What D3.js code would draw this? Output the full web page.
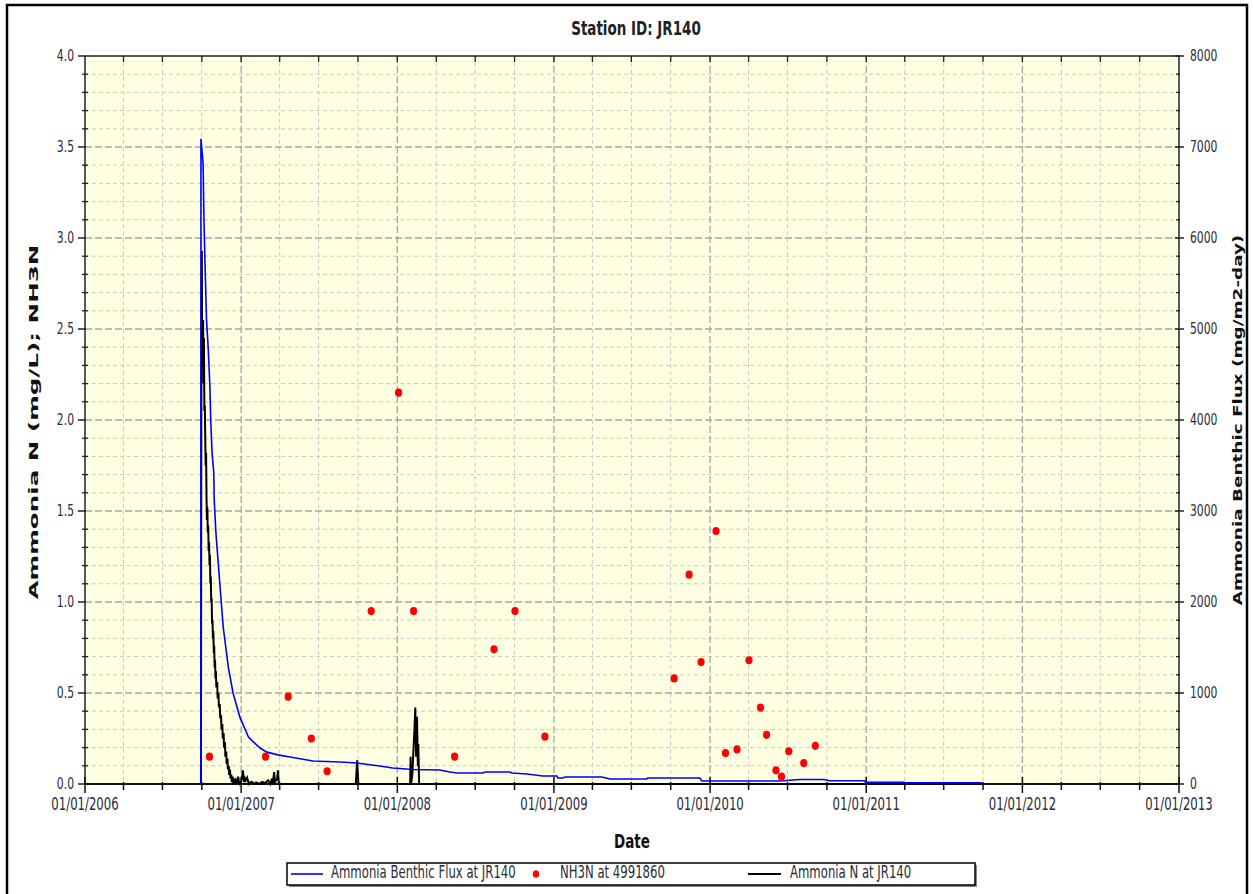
<!DOCTYPE html>
<html><head><meta charset="utf-8">
<script src="https://cdn.jsdelivr.net/npm/d3@7"></script>
<style>body{margin:0;background:#fff}</style>
</head><body>
<svg id="c" width="1253" height="894"></svg>
<script>
// ---------- data ----------
const chartTitle = "Station ID: JR140";
const xLabel = "Date";
const yLeftLabel = "Ammonia N  (mg/L); NH3N";
const yRightLabel = "Ammonia Benthic Flux  (mg/m2-day)";
const xDomain = ["2006-01-01", "2013-01-01"];
const yearTicks = ["2006-01-01","2007-01-01","2008-01-01","2009-01-01","2010-01-01","2011-01-01","2012-01-01","2013-01-01"];
const leftTicks = [0, 0.5, 1.0, 1.5, 2.0, 2.5, 3.0, 3.5, 4.0];
const rightTicks = [0, 1000, 2000, 3000, 4000, 5000, 6000, 7000, 8000];
const seriesNames = ["Ammonia Benthic Flux at JR140", "NH3N at 4991860", "Ammonia N at JR140"];

// Ammonia Benthic Flux (right axis, mg/m2-day)
const fluxDates = ["2006-09-29","2006-09-29","2006-10-04","2006-10-06","2006-10-09","2006-10-12","2006-10-16","2006-10-20","2006-10-22","2006-10-25","2006-10-29","2006-10-30","2006-11-03","2006-11-12","2006-11-20","2006-12-02","2006-12-13","2006-12-29","2007-01-18","2007-02-14","2007-03-02","2007-03-28","2007-04-25","2007-06-18","2007-08-20","2007-09-28","2007-11-21","2007-12-21","2008-02-06","2008-04-09","2008-05-03","2008-05-20","2008-07-19","2008-07-24","2008-09-20","2008-09-25","2008-10-30","2008-12-06","2009-01-08","2009-01-10","2009-01-22","2009-01-27","2009-04-23","2009-05-12","2009-08-06","2009-08-08","2009-12-08","2009-12-13","2010-06-13","2010-07-30","2010-09-24","2010-10-08","2010-12-27","2010-12-31","2011-03-30","2011-04-03","2011-09-28"];
const fluxValues = [0,7090,6820,6210,5630,5100,4790,4360,3980,3640,3420,3120,2760,2210,1725,1285,1000,735,515,395,350,320,297,253,242,231,198,176,160,154,132,121,121,132,132,121,110,88,88,66,66,77,77,55,55,66,66,33,33,50,50,35,35,20,20,12,12];

// NH3N at 4991860 (left axis, mg/L)
const nh3nDates = ["2006-10-19","2007-02-27","2007-04-21","2007-06-14","2007-07-21","2007-11-01","2008-01-04","2008-02-08","2008-05-14","2008-08-14","2008-10-02","2008-12-11","2009-10-09","2009-11-13","2009-12-11","2010-01-15","2010-02-06","2010-03-05","2010-04-02","2010-04-29","2010-05-13","2010-06-04","2010-06-17","2010-07-04","2010-08-08","2010-09-04"];
const nh3nValues = [0.15,0.15,0.48,0.25,0.07,0.95,2.15,0.95,0.15,0.74,0.95,0.26,0.58,1.15,0.67,1.39,0.17,0.19,0.68,0.42,0.27,0.075,0.04,0.18,0.115,0.21];

// Ammonia N at JR140 (left axis, mg/L)
const ammoniaDates = ["2006-09-29","2006-09-30","2006-10-01","2006-10-02","2006-10-04","2006-10-05","2006-10-06","2006-10-07","2006-10-08","2006-10-10","2006-10-11",
  "2006-10-12","2006-10-13","2006-10-14","2006-10-15","2006-10-16","2006-10-17","2006-10-18","2006-10-19","2006-10-20","2006-10-21","2006-10-22","2006-10-23","2006-10-24","2006-10-25","2006-10-26","2006-10-27","2006-10-28","2006-10-29","2006-10-30","2006-10-31",
  "2006-11-01","2006-11-02","2006-11-03","2006-11-04","2006-11-06","2006-11-07","2006-11-09","2006-11-10","2006-11-12","2006-11-13","2006-11-15","2006-11-16","2006-11-18","2006-11-19","2006-11-21","2006-11-22","2006-11-24","2006-11-25","2006-11-27","2006-11-28","2006-11-30",
  "2006-12-01","2006-12-03","2006-12-04","2006-12-06","2006-12-07","2006-12-09","2006-12-10","2006-12-12","2006-12-14","2006-12-16","2006-12-18","2006-12-20","2006-12-23","2006-12-25","2006-12-27","2006-12-29",
  "2007-01-02","2007-01-05","2007-01-08","2007-01-10","2007-01-12","2007-01-15","2007-01-19","2007-01-23","2007-01-26","2007-02-01","2007-02-05","2007-02-12","2007-02-19","2007-02-26","2007-03-05","2007-03-10","2007-03-14","2007-03-16","2007-03-19","2007-03-21","2007-03-26","2007-03-28","2007-03-30",
  "2007-09-26","2007-09-29","2007-10-02","2008-01-31","2008-02-01","2008-02-02","2008-02-05","2008-02-08","2008-02-10","2008-02-12","2008-02-14","2008-02-16","2008-02-18","2008-02-19","2008-02-21","2011-09-29"];
const ammoniaValues = [0,2.40,2.93,2.30,2.55,2.20,2.45,2.05,2.08,1.75,1.82,
  1.58,1.45,1.52,1.38,1.42,1.28,1.33,1.20,1.26,1.10,1.14,1.00,1.02,0.88,0.90,0.80,0.84,0.72,0.76,0.64,
  0.68,0.58,0.62,0.53,0.56,0.47,0.50,0.42,0.44,0.36,0.38,0.30,0.33,0.25,0.28,0.20,0.23,0.15,0.18,0.11,0.14,
  0.08,0.10,0.05,0.08,0.03,0.05,0.01,0.04,0.0,0.03,0.0,0.02,0.0,0.04,0.01,0.0,
  0.02,0.075,0.01,0.03,0.02,0.035,0.0,0.01,0.012,0.0,0.008,0.0,0.012,0.005,0.02,0.0,0.03,0.0,0.065,0.01,0.03,0.075,0.0,
  0,0.13,0,0,0.15,0,0.05,0.2,0.3,0.42,0.15,0.37,0.1,0.22,0,0];

// ---------- drawing ----------
const svg = d3.select("#c");
const parse = d3.utcParse("%Y-%m-%d");
const L = 85, R = 1179, T = 56, B = 784;
const x = d3.scaleUtc().domain(xDomain.map(parse)).range([L, R]);
const yL = d3.scaleLinear().domain([0, 4]).range([B, T]);
const yR = d3.scaleLinear().domain([0, 8000]).range([B, T]);
const FONT = "'DejaVu Sans Condensed', 'DejaVu Sans', sans-serif";
const SY = 1.3;
const txtColor = "#2b2b3a";

function text(g, px, py, str, o) {
  o = o || {};
  const t = g.append("text")
    .attr("transform", `translate(${px},${py})` + (o.rot ? ` rotate(${o.rot}) scale(${SY},1)` : ` scale(1,${SY})`))
    .attr("font-family", FONT)
    .attr("font-size", o.size || 12)
    .attr("font-weight", o.bold ? "bold" : "normal")
    .attr("fill", o.fill || txtColor)
    .attr("text-anchor", o.anchor || "start")
    .text(str);
  if (o.len) t.attr("textLength", o.len).attr("lengthAdjust", "spacingAndGlyphs");
  return t;
}

// frame
svg.append("rect").attr("x", 7).attr("y", 5).attr("width", 1240).attr("height", 900)
  .attr("fill", "#fff").attr("stroke", "#000").attr("stroke-width", 2.5);

// plot background
svg.append("rect").attr("x", L).attr("y", T).attr("width", R - L).attr("height", B - T).attr("fill", "#ffffe1");

// grid
const years = yearTicks.map(parse);
const quarters = d3.utcMonth.every(3).range(x.domain()[0], x.domain()[1]).filter(d => d.getUTCMonth() !== 0);
const minorY = d3.range(1, 40).map(i => i / 10).filter(v => Math.abs(v * 2 - Math.round(v * 2)) > 1e-6);
const grid = svg.append("g");
grid.selectAll(".mx").data(quarters).join("line")
  .attr("x1", d => x(d)).attr("x2", d => x(d)).attr("y1", T).attr("y2", B)
  .attr("stroke", "#cbcbc0").attr("stroke-dasharray", "4,3").attr("stroke-width", 1);
grid.selectAll(".my").data(minorY).join("line")
  .attr("x1", L).attr("x2", R).attr("y1", d => yL(d)).attr("y2", d => yL(d))
  .attr("stroke", "#cbcbc0").attr("stroke-dasharray", "4,3").attr("stroke-width", 1);
grid.selectAll(".Mx").data(years.slice(1, -1)).join("line")
  .attr("x1", d => x(d)).attr("x2", d => x(d)).attr("y1", T).attr("y2", B)
  .attr("stroke", "#a6a6a0").attr("stroke-dasharray", "7,3").attr("stroke-width", 1.3);
grid.selectAll(".My").data(leftTicks.slice(1, -1)).join("line")
  .attr("x1", L).attr("x2", R).attr("y1", d => yL(d)).attr("y2", d => yL(d))
  .attr("stroke", "#a6a6a0").attr("stroke-dasharray", "7,3").attr("stroke-width", 1.3);

// axes lines & ticks
const ax = svg.append("g").attr("stroke", "#222");
ax.append("line").attr("x1", L).attr("x2", R).attr("y1", T).attr("y2", T).attr("stroke-width", 1.5);
ax.append("line").attr("x1", L).attr("x2", L).attr("y1", T).attr("y2", B).attr("stroke-width", 1.5);
ax.append("line").attr("x1", R).attr("x2", R).attr("y1", T).attr("y2", B).attr("stroke-width", 1.5);
ax.selectAll(".lt").data(leftTicks).join("line").attr("x1", L - 7).attr("x2", L + 1).attr("y1", d => yL(d)).attr("y2", d => yL(d)).attr("stroke-width", 1.5);
ax.selectAll(".lm").data(minorY).join("line").attr("x1", L - 3).attr("x2", L + 3).attr("y1", d => yL(d)).attr("y2", d => yL(d)).attr("stroke-width", 1.3);
ax.selectAll(".rt").data(rightTicks).join("line").attr("x1", R - 4).attr("x2", R + 5).attr("y1", d => yR(d)).attr("y2", d => yR(d)).attr("stroke-width", 1.5);
ax.selectAll(".rm").data(minorY).join("line").attr("x1", R - 3).attr("x2", R + 1).attr("y1", d => yL(d)).attr("y2", d => yL(d)).attr("stroke-width", 1.3);
ax.selectAll(".tq").data(quarters.concat(years.slice(1, -1))).join("line").attr("x1", d => x(d)).attr("x2", d => x(d)).attr("y1", T).attr("y2", T + 6).attr("stroke-width", 1.3);

// series: Ammonia N (black)
const ammonia = ammoniaDates.map((d, i) => ({ date: parse(d), v: ammoniaValues[i] }));
svg.append("path").datum(ammonia)
  .attr("d", d3.line().x(d => x(d.date)).y(d => yL(d.v)))
  .attr("fill", "none").attr("stroke", "#000").attr("stroke-width", 2).attr("stroke-linejoin", "miter");

// series: flux (blue)
const flux = fluxDates.map((d, i) => ({ date: parse(d), v: fluxValues[i] }));
svg.append("path").datum(flux)
  .attr("d", d3.line().x(d => x(d.date)).y(d => yR(d.v)))
  .attr("fill", "none").attr("stroke", "#0000ff").attr("stroke-width", 1.6);

// bottom axis line
ax.append("line").attr("x1", L).attr("x2", R).attr("y1", B).attr("y2", B).attr("stroke-width", 2).attr("stroke", "#111");
ax.selectAll(".bq").data(quarters).join("line").attr("x1", d => x(d)).attr("x2", d => x(d)).attr("y1", B - 2).attr("y2", B + 6).attr("stroke-width", 1.5).attr("stroke", "#111");
ax.selectAll(".by").data(years).join("line").attr("x1", d => x(d)).attr("x2", d => x(d)).attr("y1", B - 7).attr("y2", B + 9).attr("stroke-width", 1.5).attr("stroke", "#111");

// series: NH3N (red dots)
const nh3n = nh3nDates.map((d, i) => ({ date: parse(d), v: nh3nValues[i] }));
svg.append("g").selectAll("ellipse").data(nh3n).join("ellipse")
  .attr("cx", d => x(d.date)).attr("cy", d => yL(d.v)).attr("rx", 3.6).attr("ry", 4.1)
  .attr("fill", "#ff0000");

// tick labels
const labels = svg.append("g");
leftTicks.forEach(v => text(labels, L - 11, yL(v) + 5, d3.format(".1f")(v), { anchor: "end", size: 12 }));
rightTicks.forEach(v => text(labels, R + 11, yR(v) + 5, String(v), { anchor: "start", size: 12 }));
const fmt = d3.utcFormat("%m/%d/%Y");
years.forEach(d => text(labels, x(d), 810, fmt(d), { anchor: "middle", size: 13 }));

// titles
text(svg, 636, 35, chartTitle, { anchor: "middle", size: 15, bold: true, fill: "#222" });
text(svg, 632, 848, xLabel, { anchor: "middle", size: 15, bold: true, fill: "#111" });
text(svg, 38, 422, yLeftLabel, { anchor: "middle", size: 12.5, bold: true, rot: -90, fill: "#111", len: 273 });
text(svg, 1242, 420, yRightLabel, { anchor: "middle", size: 13, bold: true, rot: -90, fill: "#111", len: 285 });

// legend
const lg = svg.append("g");
lg.append("rect").attr("x", 289).attr("y", 865).attr("width", 688).attr("height", 22).attr("fill", "#888");
lg.append("rect").attr("x", 287).attr("y", 863).attr("width", 688).attr("height", 22).attr("fill", "#fff").attr("stroke", "#000").attr("stroke-width", 1.5);
lg.append("line").attr("x1", 291).attr("x2", 323).attr("y1", 874).attr("y2", 874).attr("stroke", "#0000ff").attr("stroke-width", 1.6);
text(lg, 331, 878, seriesNames[0], { size: 13 });
lg.append("ellipse").attr("cx", 536).attr("cy", 874).attr("rx", 3.2).attr("ry", 3.8).attr("fill", "#ff0000");
text(lg, 560, 878, seriesNames[1], { size: 13 });
lg.append("line").attr("x1", 748).attr("x2", 781).attr("y1", 874).attr("y2", 874).attr("stroke", "#000").attr("stroke-width", 2);
text(lg, 790, 878, seriesNames[2], { size: 13 });
</script>
</body></html>
